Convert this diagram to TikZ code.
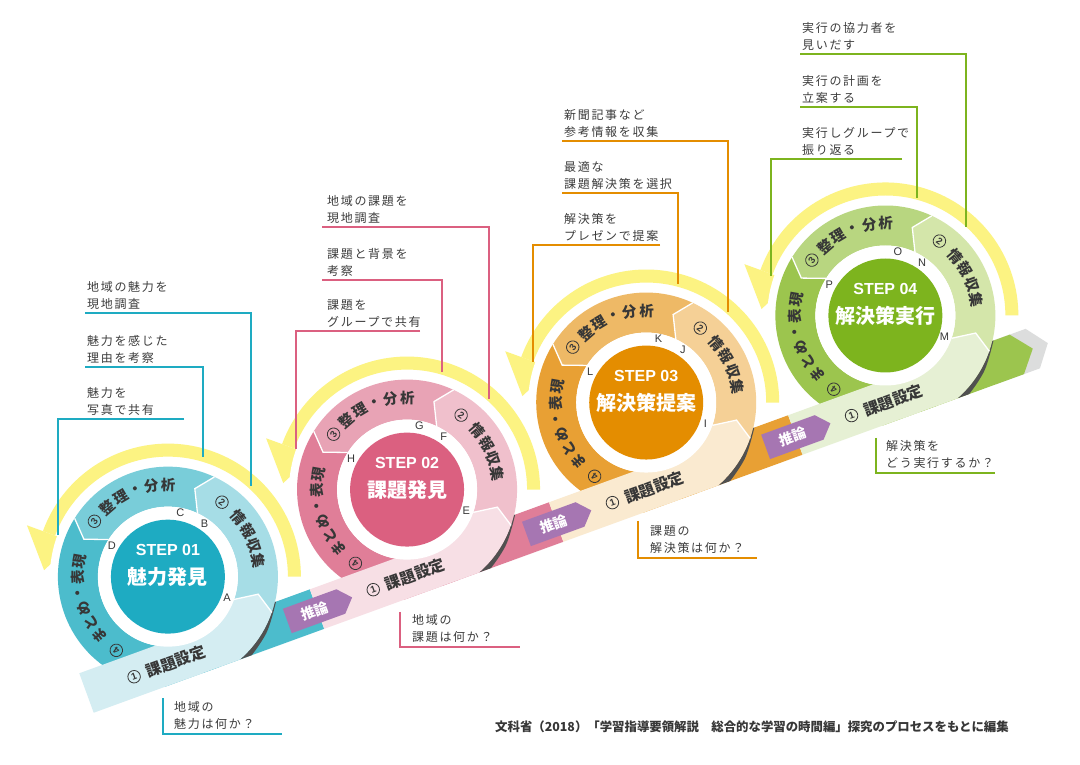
\documentclass[tikz,border=0pt]{standalone}
\usepackage{fontspec}
\newfontfamily\jp{Noto Sans CJK JP}
\newfontfamily\jpl{Noto Sans CJK JP}[LetterSpace=14]
\newfontfamily\lsans{Liberation Sans}
\usetikzlibrary{calc}

\definecolor{yel}{RGB}{252,243,130}
\definecolor{dgray}{RGB}{55,55,55}
\definecolor{tgray}{RGB}{60,60,60}
\definecolor{shad}{RGB}{80,80,80}
\definecolor{tipgray}{RGB}{220,221,221}
\definecolor{purp}{RGB}{166,118,178}
\definecolor{t1c}{RGB}{30,171,194}
\definecolor{t1p}{RGB}{166,221,230}
\definecolor{t1q}{RGB}{121,205,217}
\definecolor{t1r}{RGB}{76,188,204}
\definecolor{t1l}{RGB}{212,237,242}
\definecolor{t2c}{RGB}{219,96,128}
\definecolor{t2p}{RGB}{240,192,204}
\definecolor{t2q}{RGB}{232,163,181}
\definecolor{t2r}{RGB}{224,126,152}
\definecolor{t2l}{RGB}{247,223,229}
\definecolor{t3c}{RGB}{228,141,0}
\definecolor{t3p}{RGB}{245,208,150}
\definecolor{t3q}{RGB}{238,185,102}
\definecolor{t3r}{RGB}{232,160,52}
\definecolor{t3l}{RGB}{250,234,208}
\definecolor{t4c}{RGB}{125,180,30}
\definecolor{t4p}{RGB}{212,230,170}
\definecolor{t4q}{RGB}{184,214,128}
\definecolor{t4r}{RGB}{156,197,78}
\definecolor{t4l}{RGB}{230,240,212}

\tikzset{
  bandframe/.style={shift={(86.5,71)},rotate=20},
  segtxt/.style={font=\jp\bfseries\fontsize{14.5}{14.5}\selectfont,text=dgray,inner sep=0},
  numtxt/.style={circle,draw=dgray,line width=0.8,inner sep=0,minimum size=12.5,font=\lsans\bfseries\fontsize{9.5}{9.5}\selectfont,text=dgray},
  lettxt/.style={font=\lsans\fontsize{11}{11}\selectfont,text=dgray,inner sep=0},
  steptxt/.style={font=\lsans\bfseries\fontsize{16}{16}\selectfont,text=white,inner sep=0},
  titletxt/.style={font=\jp\bfseries\fontsize{20}{20}\selectfont,text=white,inner sep=0},
  bandtxt/.style={font=\jp\bfseries\fontsize{15.5}{15.5}\selectfont,text=dgray,inner sep=0,rotate=20},
  tagtxt/.style={font=\jp\bfseries\fontsize{14}{14}\selectfont,text=white,inner sep=0,rotate=20},
  note/.style={font=\jpl\fontsize{12}{16.7}\selectfont,text=tgray,inner sep=0,anchor=south west,align=left},
  cline/.style={line width=1.8},
  sepline/.style={white,line width=1.3},
}

\newcommand\ArcText[7]{% #1 name, #2 center, #3 radius, #4 start, #5 step, #6 style, #7 list
  \foreach \myCh [count=\myI from 0] in {#7} {%
    \pgfmathsetmacro\myAng{#4-\myI*#5}%
    \node[#6,rotate=\myAng-90] (#1-\myI) at ($(#2)+(\myAng:#3)$) {\myCh};
  }}

\newcommand\DrawStep[8]{%
  \pgfmathsetmacro\mySk{116.3+254.5*(#1-1)}%
  \pgfmathsetmacro\myBp{(#1==1) ? 0 : (\mySk-125.5)}%
  \begin{scope}[shift={(S#1)}]
    \fill[yel] (0:120) arc[start angle=0,end angle=160,radius=120] -- (160:133) arc[start angle=160,end angle=0,radius=133] -- cycle;
    \fill[yel] (160:100) -- (160:150) -- (177:124) -- cycle;
    \fill[white] (0,0) -- (60:118) arc[start angle=60,end angle=240,radius=118] -- cycle;
    \fill[#2p] (-19:110) arc[start angle=-19,end angle=65,radius=110] -- (73:92) -- (65:70) arc[start angle=65,end angle=-19,radius=70] -- (-11:92) -- cycle;
    \fill[#2q] (65:110) arc[start angle=65,end angle=148,radius=110] -- (156:92) -- (148:70) arc[start angle=148,end angle=65,radius=70] -- (73:92) -- cycle;
  \end{scope}
  \begin{scope}
    \clip[bandframe] (-100,-21) rectangle (1200,400);
    \fill[#2r,shift={(S#1)}] (148:110) arc[start angle=148,end angle=300,radius=110] -- (300:70) arc[start angle=300,end angle=148,radius=70] -- (156:92) -- cycle;
    \fill[#2l,shift={(S#1)}] (0,0) -- (-80:110) arc[start angle=-80,end angle=-19,radius=110] -- (-11:92) -- (-19:70) -- cycle;
  \end{scope}
  \fill[#2l,bandframe] (\myBp,-21) rectangle (\mySk,21);
  \begin{scope}
    \clip[bandframe] (\mySk,-21) rectangle (\mySk+200,21);
    \fill[shad,shift={(S#1)}] (-3:110) arc[start angle=-3,end angle=-85,radius=110] -- (-85:117) -- plot[smooth] coordinates {(-70:117) (-50:116) (-30:113.5) (-12:111)} -- cycle;
  \end{scope}
  \begin{scope}[shift={(S#1)}]
    \draw[sepline] (-19:70) -- (-11:92) -- (-19:110);
    \draw[sepline] (65:70) -- (73:92) -- (65:110);
    \draw[sepline] (148:70) -- (156:92) -- (148:110);
    \fill[white] (0,0) circle[radius=70];
    \fill[#2c] (0,0) circle[radius=57];
  \end{scope}
  \node[steptxt] (st#1) at ($(S#1)+(0,27)$) {STEP #3};
  \node[titletxt] (ti#1) at ($(S#1)+(0,0)$) {#4};
  \node[lettxt] (la#1) at ($(S#1)+(-20:63)$) {#5};
  \node[lettxt] (lb#1) at ($(S#1)+(55:64)$) {#6};
  \node[lettxt] (lc#1) at ($(S#1)+(79:65)$) {#7};
  \node[lettxt] (ld#1) at ($(S#1)+(151:64)$) {#8};
  \ArcText{a#1}{S#1}{92}{54}{0}{numtxt}{2}
  \ArcText{b#1}{S#1}{92}{40}{10}{segtxt}{情,報,収,集}
  \ArcText{c#1}{S#1}{92}{143}{0}{numtxt}{3}
  \ArcText{d#1}{S#1}{92}{131}{10.3}{segtxt}{整,理,・,分,析}
  \ArcText{e#1}{S#1}{90}{235}{0}{numtxt}{4}
  \ArcText{f#1}{S#1}{90}{221}{10.2}{segtxt}{ま,と,め,・,表,現}
  \path[bandframe] node[numtxt,rotate=20] (bn#1) at (\mySk-66,-1) {1};
  \path[bandframe] node[bandtxt] (bt#1) at (\mySk-21.5,-1) {課題設定};
}

\begin{document}
\begin{tikzpicture}[x=1pt,y=1pt]
\useasboundingbox (0,0) rectangle (1080,764);
\fill[white] (0,0) rectangle (1080,764);

\begin{scope}[bandframe]
  \coordinate (S1) at (116.3,81.5);
  \coordinate (S2) at (370.8,81.5);
  \coordinate (S3) at (625.3,81.5);
  \coordinate (S4) at (879.8,81.5);
  % dark strips leaving each ring
  \fill[t1r] (116.3,-21) rectangle (245.3,21);
  \fill[t2r] (370.8,-21) rectangle (499.8,21);
  \fill[t3r] (625.3,-21) rectangle (754.3,21);
  \fill[tipgray] (960,21) -- (1007,21) -- (1023,0) -- (1007,-21) -- (960,-21) -- cycle;
  \fill[t4r] (879.8,-21) -- (879.8,21) -- (990,21) -- (1007,0) -- (990,-21) -- cycle;
\end{scope}

\DrawStep{1}{t1}{01}{魅力発見}{A}{B}{C}{D}
\DrawStep{2}{t2}{02}{課題発見}{E}{F}{G}{H}
\DrawStep{3}{t3}{03}{解決策提案}{I}{J}{K}{L}
\DrawStep{4}{t4}{04}{解決策実行}{M}{N}{O}{P}

% reasoning tags
\begin{scope}[bandframe]
  \foreach \c [count=\i] in {245.3,499.8,754.3} {
    \fill[purp] (\c-32,-14) -- (\c+25,-14) -- (\c+37,-1) -- (\c+25,12) -- (\c-32,12) -- cycle;
    \node[tagtxt] (tag\i) at (\c-3,-1) {推論};
  }
\end{scope}

% callouts step 1
\draw[cline,t1c] (85,451) -- (251,451) -- (251,278);
\node[note] (n1a) at (87,454.3) {地域の魅力を\\現地調査};
\draw[cline,t1c] (85,397) -- (203,397) -- (203,307);
\node[note] (n1b) at (87,400.3) {魅力を感じた\\理由を考察};
\draw[cline,t1c] (184,345) -- (58,345) -- (58,229);
\node[note] (n1c) at (87,348.3) {魅力を\\写真で共有};
\draw[cline,t1c] (163,66) -- (163,30) -- (282,30);
\node[note] (n1d) at (174,34.5) {地域の\\魅力は何か？};

% callouts step 2
\draw[cline,t2c] (322,537) -- (489,537) -- (489,365);
\node[note] (n2a) at (327,540.3) {地域の課題を\\現地調査};
\draw[cline,t2c] (322,484) -- (442,484) -- (442,392);
\node[note] (n2b) at (327,487.3) {課題と背景を\\考察};
\draw[cline,t2c] (420,433) -- (296,433) -- (296,315);
\node[note] (n2c) at (327,436.3) {課題を\\グループで共有};
\draw[cline,t2c] (400,152) -- (400,117) -- (520,117);
\node[note] (n2d) at (412,121.5) {地域の\\課題は何か？};

% callouts step 3
\draw[cline,t3c] (562,623) -- (728,623) -- (728,452);
\node[note] (n3a) at (564,626.3) {新聞記事など\\参考情報を収集};
\draw[cline,t3c] (562,571) -- (678,571) -- (678,480);
\node[note] (n3b) at (564,574.3) {最適な\\課題解決策を選択};
\draw[cline,t3c] (660,519) -- (533,519) -- (533,402);
\node[note] (n3c) at (564,522.3) {解決策を\\プレゼンで提案};
\draw[cline,t3c] (638,243) -- (638,206) -- (757,206);
\node[note] (n3d) at (650,210.5) {課題の\\解決策は何か？};

% callouts step 4
\draw[cline,t4c] (800,710) -- (966,710) -- (966,537);
\node[note] (n4a) at (802,713.3) {実行の協力者を\\見いだす};
\draw[cline,t4c] (800,657) -- (917,657) -- (917,566);
\node[note] (n4b) at (802,660.3) {実行の計画を\\立案する};
\draw[cline,t4c] (902,605) -- (771,605) -- (771,488);
\node[note] (n4c) at (802,608.3) {実行しグループで\\振り返る};
\draw[cline,t4c] (876,326) -- (876,291) -- (995,291);
\node[note] (n4d) at (886,295.5) {解決策を\\どう実行するか？};

\node[anchor=west,font=\jp\bfseries\fontsize{12.4}{12.4}\selectfont,text=dgray,inner sep=0] (src) at (495,37) {文科省（2018）「学習指導要領解説　総合的な学習の時間編」探究のプロセスをもとに編集};
\end{tikzpicture}
\end{document}
